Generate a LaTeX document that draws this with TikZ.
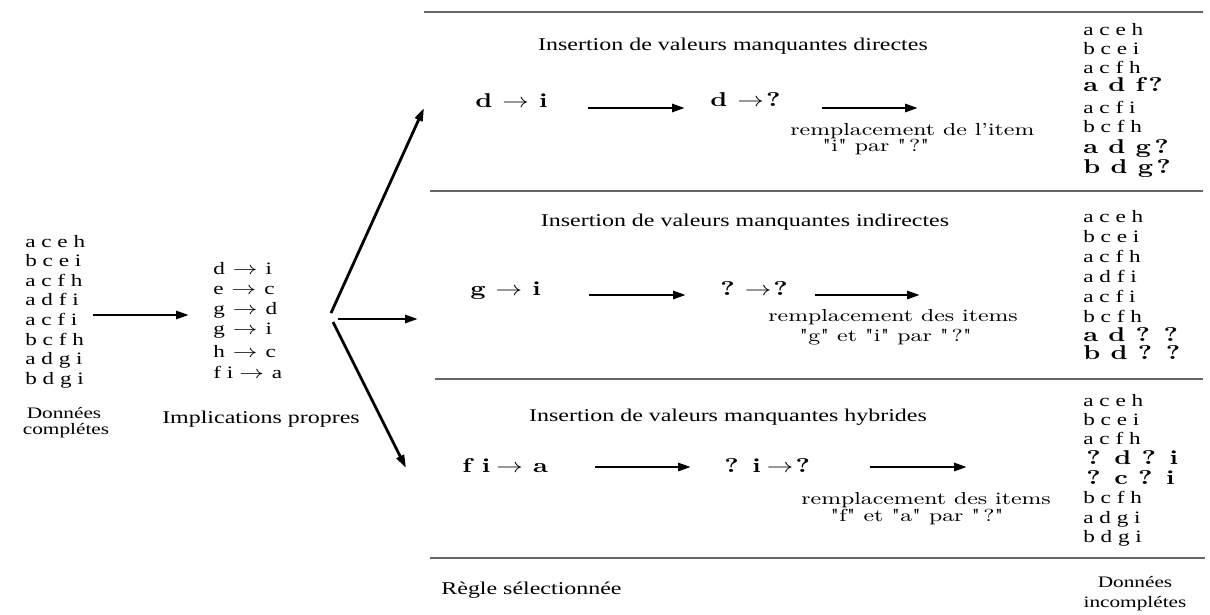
\documentclass[tikz,border=0pt]{standalone}
\usepackage{fontspec}
\usepackage{graphicx}
\setmainfont{Latin Modern Roman}[FakeStretch=1.33]
\newfontfamily\tms{Liberation Serif}[FakeStretch=1.33]
\newfontfamily\notefont{Latin Modern Roman}[FakeStretch=1.33,Ligatures=TeXOff]
\usetikzlibrary{arrows.meta}
% a horizontally widened implication arrow
\newcommand\sarr{\scalebox{1.33}[1]{$\rightarrow$}}

\begin{document}
\begin{tikzpicture}[x=0.5pt,y=-0.5pt,
  every node/.style={inner sep=0pt},
  item/.style={font=\tms\fontsize{8.7}{10}\selectfont, anchor=base west},
  miss/.style={font=\bfseries\fontsize{10}{12}\selectfont, anchor=base west},
  heading/.style={font=\tms\fontsize{9}{11}\selectfont, anchor=base},
  caption/.style={font=\tms\fontsize{8}{10}\selectfont, anchor=base},
  formula/.style={font=\bfseries\fontsize{10}{12}\selectfont, anchor=base west},
  rulenote/.style={font=\notefont\fontsize{8.7}{10}\selectfont, anchor=base west},
  sepline/.style={draw=black!60, line width=1pt},
  flow/.style={line width=1.4pt, -{Stealth[length=6.5pt,width=4pt,inset=0pt]}}]
\useasboundingbox (0,0) rectangle (1210,615);

% complete data set
\foreach \txt [count=\k] in {a c e h, b c e i, a c f h, a d f i, a c f i, b c f h, a d g i, b d g i}
  \node[item] (full\k) at (25,{247+19.6*(\k-1)}) {\txt};
\node[caption] (fullcapA) at (64,418) {Donn\'ees};
\node[caption] (fullcapB) at (66,434) {compl\'etes};

% proper implications
\foreach \y/\txt [count=\k] in {270/d\hspace{4pt}\sarr\hspace{4pt}i, 290/e\hspace{4pt}\sarr\hspace{4pt}c,
    310/g\hspace{4pt}\sarr\hspace{4pt}d, 330/g\hspace{4pt}\sarr\hspace{4pt}i,
    353/h\hspace{4pt}\sarr\hspace{4pt}c, 374/f i\hspace{3pt}\sarr\hspace{4pt}a}
  \node[item] (impl\k) at (213,\y+4) {\txt};
\node[heading] (implcap) at (261,423) {Implications propres};

\coordinate (inA) at (93,315);
\coordinate (inB) at (189,315);
\draw[flow] (inA) -- (inB);

% fork towards the three kinds of insertion
\coordinate (forkU) at (331,313);
\coordinate (forkM) at (338,319);
\coordinate (forkL) at (333,322);
\coordinate (toU) at (424,108);
\coordinate (toM) at (418,319);
\coordinate (toL) at (406,468);
\draw[flow] (forkU) -- (toU);
\draw[flow] (forkM) -- (toM);
\draw[flow] (forkL) -- (toL);

% separating rules
\coordinate (s1a) at (424,12);  \coordinate (s1b) at (1203,12);
\coordinate (s2a) at (430,191); \coordinate (s2b) at (1203,191);
\coordinate (s3a) at (435,379); \coordinate (s3b) at (1203,379);
\coordinate (s4a) at (430,558); \coordinate (s4b) at (1205,558);
\draw[sepline] (s1a) -- (s1b);
\draw[sepline] (s2a) -- (s2b);
\draw[sepline] (s3a) -- (s3b);
\draw[sepline] (s4a) -- (s4b);

% direct insertion
\node[heading] (t1) at (733,51) {Insertion de valeurs manquantes directes};
\node[formula] (r1) at (475,108) {d\hspace{5pt}\sarr\hspace{5pt}i};
\node[formula] (m1) at (710,107) {d\hspace{5pt}\sarr\hspace{1pt}?};
\coordinate (a1a) at (588,108); \coordinate (a1b) at (685,108);
\coordinate (b1a) at (822,108); \coordinate (b1b) at (918,108);
\draw[flow] (a1a) -- (a1b);
\draw[flow] (b1a) -- (b1b);
\node[rulenote] (n1a) at (790,135) {remplacement de l’item};
\node[rulenote] (n1b) at (822,152) {"i" par "\,?"};
\foreach \y/\txt/\sty [count=\k] in {32/a c e h/item, 51/b c e i/item, 70/a c f h/item,
    88/a d f\,?/miss, 109/a c f i/item, 129/b c f h/item, 150/a d g\,?/miss, 170/b d g\,?/miss}
  \node[\sty] (dA\k) at (1083,\y+4) {\txt};

% indirect insertion
\node[heading] (t2) at (745,227) {Insertion de valeurs manquantes indirectes};
\node[formula] (r2) at (470,295) {g\hspace{5pt}\sarr\hspace{5pt}i};
\node[formula] (m2) at (720,295) {?\hspace{5pt}\sarr\hspace{1pt}?};
\coordinate (a2a) at (589,295); \coordinate (a2b) at (686,295);
\coordinate (b2a) at (815,295); \coordinate (b2b) at (920,295);
\draw[flow] (a2a) -- (a2b);
\draw[flow] (b2a) -- (b2b);
\node[rulenote] (n2a) at (768,321) {remplacement des items};
\node[rulenote] (n2b) at (799,341) {"g" et "i" par "\,?"};
\foreach \y/\txt/\sty [count=\k] in {218/a c e h/item, 238/b c e i/item, 258/a c f h/item,
    278/a d f i/item, 298/a c f i/item, 318/b c f h/item, 337/a d ? ?/miss, 355/b d ? ?/miss}
  \node[\sty] (dB\k) at (1083,\y+4) {\txt};

% hybrid insertion
\node[heading] (t3) at (728,421) {Insertion de valeurs manquantes hybrides};
\node[formula] (r3) at (462,472) {f i\hspace{3pt}\sarr\hspace{5pt}a};
\node[formula] (m3) at (724,472) {? i\hspace{3pt}\sarr\hspace{1pt}?};
\coordinate (a3a) at (595,467); \coordinate (a3b) at (691,467);
\coordinate (b3a) at (870,467); \coordinate (b3b) at (967,467);
\draw[flow] (a3a) -- (a3b);
\draw[flow] (b3a) -- (b3b);
\node[rulenote] (n3a) at (801,504) {remplacement des items};
\node[rulenote] (n3b) at (830,521) {"f" et "a" par "\,?"};
\foreach \y/\txt/\sty/\dx [count=\k] in {402/a c e h/item/0, 421/b c e i/item/0, 440/a c f h/item/0,
    460/? d ? i/miss/3, 480/? c ? i/miss/3, 499/b c f h/item/0, 519/a d g i/item/0, 538/b d g i/item/0}
  \node[\sty] (dC\k) at (1083+\dx,\y+4) {\txt};

% captions at the bottom
\node[heading, anchor=base west] (sel) at (441,594) {R\`egle s\'electionn\'ee};
\node[caption] (partcapA) at (1135,587) {Donn\'ees};
\node[caption] (partcapB) at (1135,607) {incompl\'etes};
\end{tikzpicture}
\end{document}
